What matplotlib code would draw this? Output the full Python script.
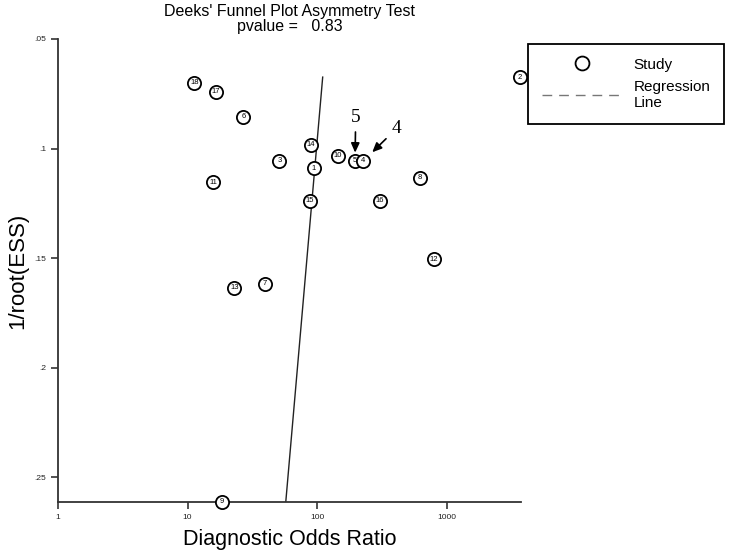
import numpy as np
import matplotlib
matplotlib.use('Agg')
import matplotlib.pyplot as plt
from matplotlib.lines import Line2D

plt.rcParams['font.family'] = ['Liberation Sans', 'DejaVu Sans']

# Study data
study = [1, 2, 3, 4, 5, 6, 7, 8, 9, 10, 11, 12, 13, 14, 15, 16, 17, 18]
dor = [94, 3650, 51, 226, 195, 26.9, 39.3, 618, 18.3, 144, 15.7, 793, 22.9, 89.4, 87.9, 304, 16.5, 11.3]
inv_root_ess = [0.1091, 0.0674, 0.1056, 0.1057, 0.1057, 0.0855, 0.1617, 0.1133, 0.2614,
                0.1032, 0.1154, 0.1506, 0.1636, 0.0984, 0.1238, 0.1238, 0.0742, 0.0700]

# regression: log10(DOR) = a + b * 1/root(ESS)
reg_a = 2.140
reg_b = -1.466
pvalue = 0.83

x_ticks = [1, 10, 100, 1000]
x_ticklabels = ['1', '10', '100', '1000']
y_ticks = [0.05, 0.1, 0.15, 0.2, 0.25]
y_ticklabels = ['.05', '.1', '.15', '.2', '.25']

fig = plt.figure(figsize=(7.33, 5.5), dpi=100)
ax = fig.add_axes([0.0787, 0.0873, 0.632, 0.8418])

ax.set_xscale('log')
ax.set_xlim(1, 3700)
ax.set_ylim(0.2614, 0.05)

# regression line
yy = np.array([min(inv_root_ess), max(inv_root_ess)])
ax.plot(10 ** (reg_a + reg_b * yy), yy, color='#222222', lw=1.0, zorder=2)

# studies, higher numbers first so 4 sits on top of 5
for i in sorted(range(len(study)), key=lambda k: -study[k]):
    z = 3 + (18 - study[i]) * 0.01
    ax.plot(dor[i], inv_root_ess[i], 'o', ms=9.5, mfc='white', mec='black', mew=1.3,
            zorder=z, clip_on=False)
    ax.text(dor[i], inv_root_ess[i], str(study[i]), fontsize=5.5, ha='center', va='center',
            zorder=z + 0.005, clip_on=False)

# arrows pointing at studies 5 and 4
i5 = study.index(5)
i4 = study.index(4)
ax.annotate('5', xy=(dor[i5], inv_root_ess[i5]), xytext=(0.5, 31), textcoords='offset points',
            fontsize=14, family='Liberation Serif', ha='center', va='center', zorder=10,
            arrowprops=dict(arrowstyle='-|>,head_length=0.4,head_width=0.18', color='black',
                            lw=1.2, shrinkA=2, shrinkB=6))
ax.annotate('4', xy=(dor[i4], inv_root_ess[i4]), xytext=(24, 23.5), textcoords='offset points',
            fontsize=14, family='Liberation Serif', ha='center', va='center', zorder=10,
            arrowprops=dict(arrowstyle='-|>,head_length=0.4,head_width=0.18', color='black',
                            lw=1.2, shrinkA=3, shrinkB=9))

ax.set_xticks(x_ticks)
ax.set_xticklabels(x_ticklabels)
ax.set_yticks(y_ticks)
ax.set_yticklabels(y_ticklabels)
ax.minorticks_off()
ax.tick_params(axis='both', labelsize=6, color='#333333', labelcolor='#222222',
               length=5, width=1.2, direction='out')

for s in ['top', 'right']:
    ax.spines[s].set_visible(False)
for s in ['left', 'bottom']:
    ax.spines[s].set_color('#333333')
    ax.spines[s].set_linewidth(1.3)

ax.set_xlabel('Diagnostic Odds Ratio', fontsize=15.5, labelpad=6)
ax.set_ylabel('1/root(ESS)', fontsize=16, labelpad=4)
ax.set_title("Deeks' Funnel Plot Asymmetry Test\npvalue =   %.2f" % pvalue, fontsize=11.5,
             linespacing=1.0, pad=6)

handles = [
    Line2D([0], [0], marker='o', ls='none', ms=10, mfc='white', mec='black', mew=1.3, label='Study'),
    Line2D([0], [0], color='#777777', ls=(0, (7, 5)), lw=1.0, label='Regression\nLine'),
]
fig.legend(handles=handles, loc='upper left', bbox_to_anchor=(528 / 733, 1 - 44 / 550),
           fontsize=11, frameon=True, fancybox=False, edgecolor='black', framealpha=1,
           borderpad=0.9, handlelength=5.3, handletextpad=0.7, labelspacing=0.55,
           borderaxespad=0)
fig.legends[0].get_frame().set_linewidth(1.3)

plt.savefig('out.png', dpi=100)
